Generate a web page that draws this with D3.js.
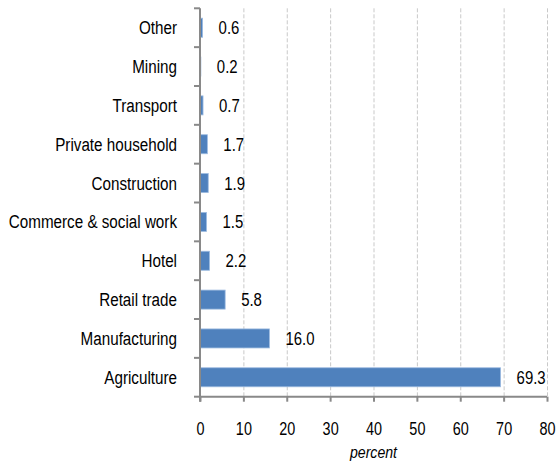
<!DOCTYPE html>
<html>
<head>
<meta charset="utf-8">
<script src="https://cdn.jsdelivr.net/npm/d3@7"></script>
<style>
  html, body { margin: 0; padding: 0; background: #fff; }
  svg text { font-family: "Liberation Sans", Arial, sans-serif; fill: #000; }
</style>
</head>
<body>
<svg id="chart" width="557" height="463"></svg>
<script>
// Employment by sector (percent), listed top to bottom
const categories = ["Other", "Mining", "Transport", "Private household", "Construction",
  "Commerce & social work", "Hotel", "Retail trade", "Manufacturing", "Agriculture"];
const values = [0.6, 0.2, 0.7, 1.7, 1.9, 1.5, 2.2, 5.8, 16.0, 69.3];
const xTicks = [0, 10, 20, 30, 40, 50, 60, 70, 80];
const xTitle = "percent";

const svg = d3.select("#chart");
const margin = { left: 200, right: 10, top: 8.3, bottom: 66.3 };
const width = 557, height = 463;
const plotW = 347;
const plotBottom = height - margin.bottom;

const x = d3.scaleLinear().domain([0, 80]).range([margin.left, margin.left + plotW]);
const y = d3.scaleBand().domain(categories).range([margin.top, plotBottom]).padding(0);
const step = y.step();
const axisColor = "#898989";
const fontSize = 18;
const narrow = 0.83; // condensed lettering

// squeeze a text selection horizontally to a condensed look
function condense(sel, k = narrow) {
  sel.each(function () {
    const w = this.getComputedTextLength();
    d3.select(this).attr("textLength", w * k).attr("lengthAdjust", "spacingAndGlyphs");
  });
}

// vertical dashed gridlines
svg.append("g").selectAll("line")
  .data(xTicks.filter(t => t > 0))
  .join("line")
  .attr("x1", d => x(d) + 0.5).attr("x2", d => x(d) + 0.5)
  .attr("y1", margin.top).attr("y2", plotBottom)
  .attr("stroke", "#c9c9c9").attr("stroke-width", 1)
  .attr("stroke-dasharray", "4,2");

// bars
svg.append("g").selectAll("rect")
  .data(categories.map((c, i) => ({ c, v: values[i] })))
  .join("rect")
  .attr("x", x(0))
  .attr("y", d => y(d.c) + step * 0.255)
  .attr("width", d => x(d.v) - x(0))
  .attr("height", step * 0.49)
  .attr("fill", "#4f81bd")
  .attr("stroke", "#9dbbe0")
  .attr("stroke-width", 0.8);

// value labels
svg.append("g").selectAll("text")
  .data(categories.map((c, i) => ({ c, v: values[i] })))
  .join("text")
  .attr("x", d => x(d.v) + 16)
  .attr("y", d => y(d.c) + step / 2)
  .attr("dy", "0.36em")
  .attr("font-size", fontSize)
  .text(d => d3.format(".1f")(d.v))
  .call(condense);

// y axis: line, boundary ticks, category labels
const yAxis = svg.append("g");
yAxis.append("line")
  .attr("x1", x(0)).attr("x2", x(0))
  .attr("y1", margin.top).attr("y2", plotBottom + 5)
  .attr("stroke", axisColor).attr("stroke-width", 2);
const bounds = categories.map(c => y(c)).concat([plotBottom]);
yAxis.selectAll("line.tick")
  .data(bounds)
  .join("line")
  .attr("class", "tick")
  .attr("x1", x(0) - 6).attr("x2", x(0))
  .attr("y1", d => d).attr("y2", d => d)
  .attr("stroke", axisColor).attr("stroke-width", 2);
yAxis.selectAll("text")
  .data(categories)
  .join("text")
  .attr("x", x(0) - 23)
  .attr("y", d => y(d) + step / 2)
  .attr("dy", "0.36em")
  .attr("text-anchor", "end")
  .attr("font-size", fontSize)
  .text(d => d)
  .call(condense, 0.845);

// x axis
const xAxis = svg.append("g").attr("transform", `translate(0,${plotBottom})`)
  .call(d3.axisBottom(x).tickValues(xTicks).tickSize(5).tickPadding(21).tickFormat(d3.format("d")));
xAxis.select(".domain").attr("stroke", axisColor).attr("stroke-width", 2)
  .attr("d", `M${x(0)},0H${x(80)}`);
xAxis.selectAll(".tick line").attr("stroke", axisColor).attr("stroke-width", 2);
xAxis.selectAll(".tick text")
  .attr("font-size", fontSize)
  .attr("font-family", '"Liberation Sans", Arial, sans-serif')
  .attr("fill", "#000")
  .call(condense, 0.8);

// x axis title
svg.append("text")
  .attr("x", (x(0) + x(80)) / 2)
  .attr("y", 458)
  .attr("text-anchor", "middle")
  .attr("font-size", 17)
  .attr("font-style", "italic")
  .text(xTitle)
  .call(condense);
</script>
</body>
</html>
